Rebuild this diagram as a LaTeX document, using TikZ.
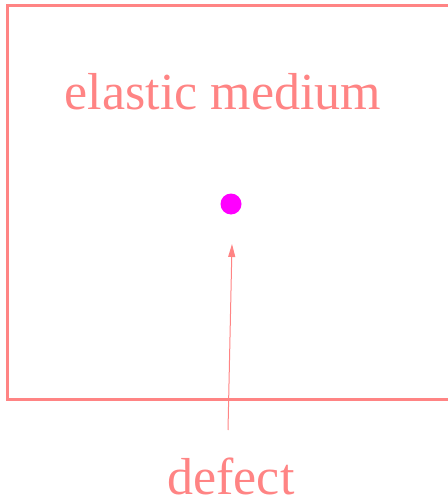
\documentclass[tikz,border=0pt]{standalone}
\usepackage{fontspec}
\setmainfont{Liberation Serif}
\usetikzlibrary{arrows.meta,positioning}
\definecolor{medcol}{HTML}{FF8484}
\definecolor{defcol}{HTML}{FF00FF}

\begin{document}
\begin{tikzpicture}[x=1pt,y=-1pt,every node/.style={font=\fontsize{52}{56}\selectfont,text=medcol,inner sep=0pt}]
\useasboundingbox (0,0) rectangle (447,497);
\draw[medcol,line width=3pt] (7,6) rectangle (460,399);
\node (medium) at (223,92) {elastic medium};
\fill[defcol] (231,204) circle (10.5pt);
\coordinate (dot) at (232,244);
\node (defect) at (231,476) {defect};
\coordinate (tail) at (228,430);
\draw[medcol,line width=1pt,-{Triangle[length=13pt,width=7pt]}] (tail)--(dot);
\end{tikzpicture}
\end{document}
